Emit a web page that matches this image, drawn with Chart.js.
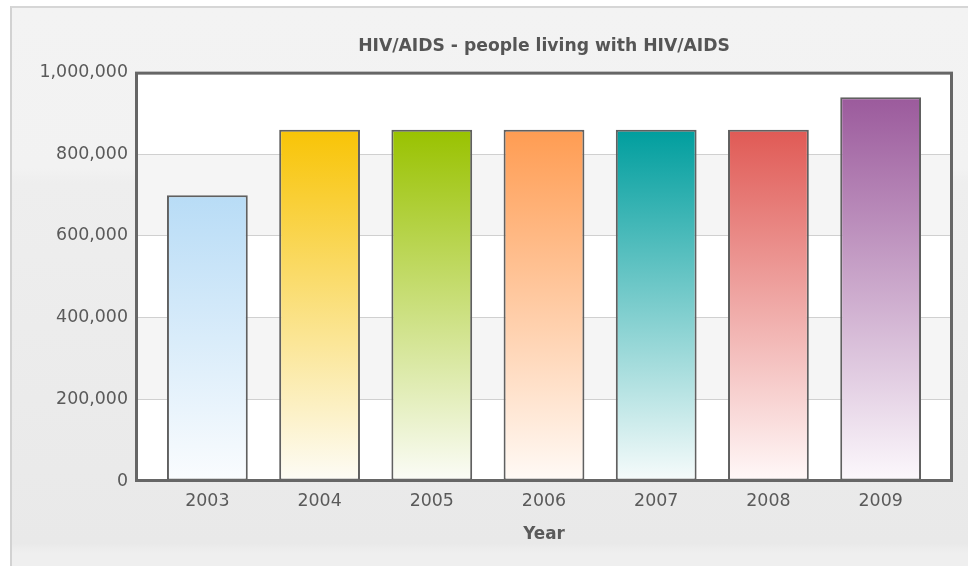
<!DOCTYPE html>
<html>
<head>
<meta charset="utf-8">
<script src="https://cdn.jsdelivr.net/npm/chart.js@4.4.0/dist/chart.umd.min.js"></script>
<style>
    html, body { margin: 0; padding: 0; background: #ffffff; }
    #marco {
        position: absolute; left: 10px; top: 6px; width: 980px; height: 580px;
        border-left: 2px solid #d2d2d2; border-top: 2px solid #d6d6d6;
        background: linear-gradient(#f3f3f3 0px, #f2f2f2 160px, #eeeeee 175px, #e9e9e9 535px, #efefef 545px, #efefef 580px);
    }
    #contenedor { position: absolute; left: 0; top: 0; width: 968px; height: 566px; }
</style>
</head>
<body>
<div id="marco"></div>
<div id="contenedor"><canvas id="myChart" width="968" height="566"></canvas></div>
<script>
//datos de la grafica
var years = ['2003', '2004', '2005', '2006', '2007', '2008', '2009'];
var people = [700000, 860000, 860000, 860000, 860000, 860000, 940000];
var yTicks = [0, 200000, 400000, 600000, 800000, 1000000];

//colores de arriba y abajo de cada barra
var coloresTop = ['#b8dcf6', '#f8c406', '#99c200', '#ff9c52', '#009e9e', '#e05a55', '#9b5a9c'];
var coloresBottom = ['#fafcfe', '#fdfcf6', '#fbfcf7', '#fffaf6', '#f6fbfb', '#fff8f8', '#fcf8fc'];

var puntos = people.map(function (v, i) { return { x: i, y: v }; });

//fondo del area de grafico con bandas alternadas
var bandas = {
    id: 'bandas',
    beforeDraw: function (chart) {
        var c = chart.ctx, a = chart.chartArea, y = chart.scales.y;
        c.save();
        c.fillStyle = '#ffffff';
        c.fillRect(a.left, a.top, a.right - a.left, a.bottom - a.top);
        c.fillStyle = '#f5f5f5';
        for (var i = 0; i < yTicks.length - 1; i++) {
            if (i % 2 === 1) {
                var y1 = y.getPixelForValue(yTicks[i + 1]);
                var y0 = y.getPixelForValue(yTicks[i]);
                c.fillRect(a.left, y1, a.right - a.left, y0 - y1);
            }
        }
        c.restore();
    },
    afterDatasetsDraw: function (chart) {
        var c = chart.ctx, a = chart.chartArea;
        c.save();
        c.strokeStyle = '#666666';
        c.lineWidth = 3;
        c.strokeRect(a.left + 0.5, a.top + 0.5, a.right - a.left - 1, a.bottom - a.top - 1);
        c.restore();
    }
};

var ctx = document.getElementById('myChart').getContext('2d');
var myChart = new Chart(ctx, {
    type: 'bar',
    data: {
        datasets: [{
            label: 'people living with HIV/AIDS',
            data: puntos,
            backgroundColor: function (context) {
                var chart = context.chart;
                var i = context.dataIndex;
                if (!chart.chartArea || !context.raw) {
                    return coloresTop[i];
                }
                var y = chart.scales.y;
                var top = y.getPixelForValue(context.raw.y);
                var bottom = y.getPixelForValue(0);
                var g = chart.ctx.createLinearGradient(0, top, 0, bottom);
                g.addColorStop(0, coloresTop[i]);
                g.addColorStop(1, coloresBottom[i]);
                return g;
            },
            borderColor: '#606060',
            borderWidth: 2,
            borderSkipped: false,
            barPercentage: 0.72,
            categoryPercentage: 1
        }]
    },
    options: {
        responsive: false,
        animation: false,
        layout: { padding: { left: 0, right: 16, top: 0, bottom: 0 } },
        plugins: {
            legend: { display: false },
            tooltip: { enabled: false },
            title: {
                display: true,
                fullSize: false,
                text: 'HIV/AIDS - people living with HIV/AIDS',
                color: '#555555',
                font: { family: 'DejaVu Sans', size: 17.2, weight: 'bold' },
                padding: { top: 36, bottom: 16 }
            }
        },
        scales: {
            x: {
                type: 'linear',
                offset: false,
                min: -0.636,
                max: 6.636,
                grid: { display: false, drawTicks: false, tickLength: 0 },
                border: { display: false },
                ticks: {
                    stepSize: 1,
                    includeBounds: false,
                    autoSkip: false,
                    maxRotation: 0,
                    padding: 10,
                    color: '#5a5a5a',
                    font: { family: 'DejaVu Sans', size: 17.4 },
                    callback: function (v) {
                        return Number.isInteger(v) && years[v] ? years[v] : '';
                    }
                },
                title: {
                    display: true,
                    text: 'Year',
                    color: '#5a5a5a',
                    font: { family: 'DejaVu Sans', size: 16.8, weight: 'bold' },
                    padding: { top: 0, bottom: 21 }
                },
                afterFit: function (scale) { scale.height = 85; }
            },
            y: {
                min: 0,
                max: 1000000,
                grid: { color: '#d0d0d0', lineWidth: 1, drawTicks: false, tickLength: 0 },
                border: { display: false },
                ticks: {
                    stepSize: 200000,
                    padding: 8,
                    color: '#5a5a5a',
                    font: { family: 'DejaVu Sans', size: 17.4 },
                    callback: function (v) { return v.toLocaleString('en-US'); }
                },
                afterFit: function (scale) { scale.width = 136; }
            }
        }
    },
    plugins: [bandas]
});
</script>
</body>
</html>
